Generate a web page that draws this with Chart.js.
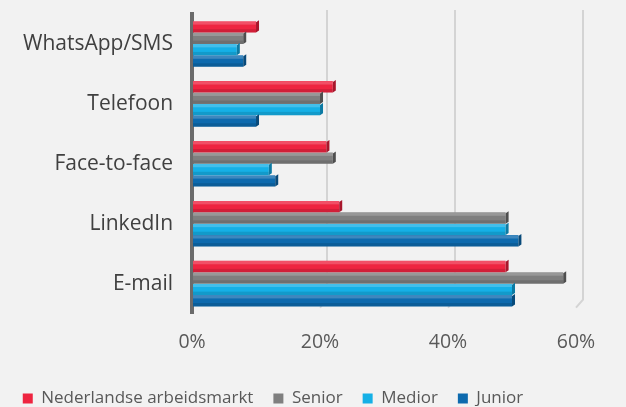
<!DOCTYPE html>
<html><head><meta charset="utf-8">
<script src="https://cdn.jsdelivr.net/npm/chart.js@4/dist/chart.umd.min.js"></script>
<style>html,body{margin:0;padding:0;background:#f2f2f2;overflow:hidden}#wrap{width:626px;height:407px;overflow:hidden}</style>
</head><body><div id="wrap"><canvas id="c" width="626" height="407"></canvas></div>
<script>
const categories = ["WhatsApp/SMS", "Telefoon", "Face-to-face", "LinkedIn", "E-mail"];
const seriesNames = ["Nederlandse arbeidsmarkt", "Senior", "Medior", "Junior"];
const nederland = [10, 22, 21, 23, 49];
const senior = [8, 20, 22, 49, 58];
const medior = [7, 20, 12, 49, 50];
const junior = [8, 10, 13, 51, 50];
const xTicks = [0, 20, 40, 60];
const colors = ["#ee2440", "#7f7f7f", "#15b0e6", "#0d6aae"];
const sideColors = ["#a8162b", "#4f4f4f", "#0c7aa3", "#084a7a"];

const backGrid = {
  id: 'backGrid',
  beforeDatasetsDraw(chart) {
    const ctx = chart.ctx, xs = chart.scales.x, area = chart.chartArea;
    ctx.save();
    ctx.strokeStyle = '#d4d4d4';
    ctx.lineWidth = 2;
    xTicks.forEach(v => {
      if (v === 0) return;
      const x = xs.getPixelForValue(v) + 7;
      ctx.beginPath();
      ctx.moveTo(x, area.top - 4);
      ctx.lineTo(x, area.bottom - 14);
      ctx.lineTo(x - 7, area.bottom - 6);
      ctx.stroke();
    });
    ctx.restore();
  }
};

const depth = {
  id: 'depth',
  afterDatasetsDraw(chart) {
    const ctx = chart.ctx;
    chart.data.datasets.forEach((ds, i) => {
      chart.getDatasetMeta(i).data.forEach(bar => {
        const h = bar.height;
        const top = bar.y - h / 2;
        ctx.save();
        ctx.fillStyle = sideColors[i];
        ctx.beginPath();
        ctx.moveTo(bar.x, top + 1);
        ctx.lineTo(bar.x + 3, top - 1);
        ctx.lineTo(bar.x + 3, top + h - 2);
        ctx.lineTo(bar.x, top + h);
        ctx.closePath();
        ctx.fill();
        ctx.fillStyle = 'rgba(255,255,255,0.2)';
        ctx.fillRect(bar.base, top, bar.x - bar.base, h * 0.3);
        ctx.fillStyle = 'rgba(0,0,0,0.12)';
        ctx.fillRect(bar.base, top + h * 0.7, bar.x - bar.base, h * 0.3);
        ctx.restore();
      });
    });
  }
};

const legendShift = {
  id: 'legendShift',
  afterInit(chart) {
    const lg = chart.legend;
    if (!lg) return;
    const f = lg.fit;
    lg.fit = function () { f.call(this); this.height = 36; };
  },
  afterLayout(chart) {
    const lg = chart.legend;
    if (!lg) return;
    lg.top -= 1; lg.bottom -= 1;
    lg.left -= 21; lg.right -= 21;
  }
};

new Chart(document.getElementById('c'), {
  type: 'bar',
  data: {
    labels: categories,
    datasets: [nederland, senior, medior, junior].map((d, i) => ({
      label: seriesNames[i], data: d, backgroundColor: colors[i],
      categoryPercentage: 0.76, barPercentage: 1.0
    }))
  },
  options: {
    indexAxis: 'y', responsive: false, animation: false,
    layout: { padding: { left: 12, right: 50, top: 14, bottom: 0 } },
    scales: {
      x: {
        min: 0, max: 60, afterBuildTicks: ax => { ax.ticks = xTicks.map(v => ({ value: v })); },
        ticks: { callback: v => v + '%', color: '#595959', font: { family: 'Open Sans', size: 19.5 }, padding: 17 },
        grid: { color: 'rgba(0,0,0,0)', lineWidth: 2, drawTicks: false },
        border: { display: false }
      },
      y: {
        afterFit: s => { s.paddingTop = 0; s.paddingBottom = 0; },
        ticks: { color: '#404040', font: { family: 'Open Sans', size: 21 }, padding: 11 },
        grid: { display: false },
        border: { color: '#6b6b6b', width: 4 }
      }
    },
    plugins: {
      legend: {
        position: 'bottom',
        labels: { boxWidth: 10, boxHeight: 10, color: '#595959', font: { family: 'Open Sans', size: 17 }, padding: 20 }
      },
      tooltip: { enabled: false }
    }
  },
  plugins: [backGrid, depth, legendShift]
});
</script></body></html>
